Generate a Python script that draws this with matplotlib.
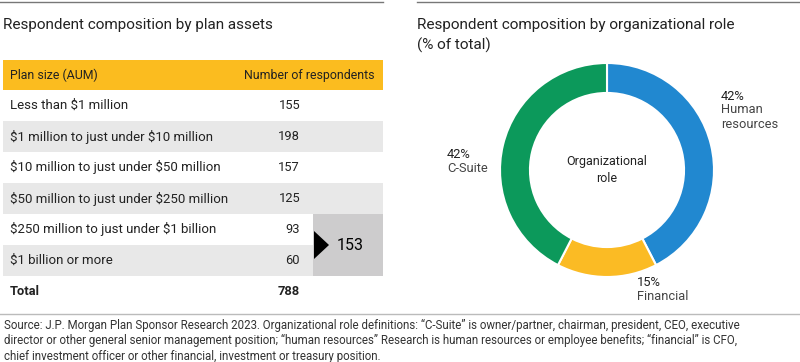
import matplotlib.pyplot as plt
from matplotlib.patches import Rectangle, Polygon

plt.rcParams['font.family'] = ['Roboto', 'DejaVu Sans']
plt.rcParams['text.parse_math'] = False

plan_sizes = [
    "Less than $1 million",
    "$1 million to just under $10 million",
    "$10 million to just under $50 million",
    "$50 million to just under $250 million",
    "$250 million to just under $1 billion",
    "$1 billion or more",
]
respondents = [155, 198, 157, 125, 93, 60]
total = 788
large_plans = 153

roles = ["Human\nresources", "Financial", "C-Suite"]
role_pct = [42, 15, 42]
role_colors = ["#2188d0", "#fbbb24", "#0c995b"]

fig = plt.figure(figsize=(8, 3.62), dpi=100)
ax = fig.add_axes([0, 0, 1, 1])
ax.set_xlim(0, 800)
ax.set_ylim(362, 0)
ax.axis("off")

txt = "#222222"

# top rules
ax.plot([0, 383], [2, 2], color="#777777", lw=1)
ax.plot([417, 800], [2, 2], color="#777777", lw=1)

# left table
ax.text(3, 25, "Respondent composition by plan assets", fontsize=11,
        color=txt, va="center", ha="left")
ax.add_patch(Rectangle((3, 60), 380, 30, color="#fbbc1f", lw=0))
ax.text(10, 75, "Plan size (AUM)", fontsize=8.9, color=txt, va="center")
ax.text(375, 75, "Number of respondents", fontsize=8.9, color=txt,
        va="center", ha="right")

row_h = 31
for i, (name, n) in enumerate(zip(plan_sizes, respondents)):
    y0 = 90 + i * row_h
    if i % 2 == 1:
        w = 310 if i == len(plan_sizes) - 1 else 380
        ax.add_patch(Rectangle((3, y0), w, row_h, color="#e8e8e8", lw=0))
    ax.text(10, y0 + row_h / 2, name, fontsize=9.5, color=txt, va="center")
    ax.text(300, y0 + row_h / 2, str(n), fontsize=9.3, color=txt,
            va="center", ha="right")

y_tot = 90 + len(plan_sizes) * row_h
ax.text(10, y_tot + row_h / 2, "Total", fontsize=9.3, color=txt,
        va="center", fontweight="bold")
ax.text(300, y_tot + row_h / 2, str(total), fontsize=9.3, color=txt,
        va="center", ha="right", fontweight="bold")

# bracket box for the two largest plan sizes
yb = 90 + 4 * row_h
ax.add_patch(Rectangle((313, yb), 70, 2 * row_h, color="#cdcccd", lw=0))
ym = yb + row_h
ax.add_patch(Polygon([[314, ym - 14], [329, ym], [314, ym + 14]],
                     closed=True, color="black", lw=0))
ax.text(337, ym, str(large_plans), fontsize=11.5, color="black", va="center")

# right title
ax.text(417, 25, "Respondent composition by organizational role", fontsize=11,
        color=txt, va="center")
ax.text(417, 45, "(% of total)", fontsize=11, color=txt, va="center")

# bottom rule and source
ax.plot([0, 800], [314, 314], color="#bbbbbb", lw=1)
source = ("Source: J.P. Morgan Plan Sponsor Research 2023. Organizational role definitions: \u201cC-Suite\u201d is owner/partner, chairman, president, CEO, executive\n"
          "director or other general senior management position; \u201chuman resources\u201d Research is human resources or employee benefits; \u201cfinancial\u201d is CFO,\n"
          "chief investment officer or other financial, investment or treasury position.")
ax.text(4, 319, source, fontsize=8.3, color="#333333", va="top", linespacing=1.22)

# donut
pax = fig.add_axes([500 / 800, 1 - 277 / 362, 214 / 800, 214 / 362])
pax.pie(role_pct, colors=role_colors, startangle=90, counterclock=False,
        wedgeprops=dict(width=0.28, edgecolor="white", linewidth=1.5))
pax.set_xlim(-1, 1)
pax.set_ylim(-1, 1)
pax.set_aspect("equal")
pax.axis("off")
pax.text(0, 0, "Organizational\nrole", ha="center", va="center",
         fontsize=9, color=txt, linespacing=1.3)

label_pos = [(721, 96), (637, 283), (447, 155)]
for (x, y), pct, lab in zip(label_pos, role_pct, roles):
    ax.text(x, y, f"{pct}%", fontsize=9.3, color=txt, va="center")
    ax.text(x, y + 7, lab, fontsize=9.3, color="#444444", va="top",
            linespacing=1.15)

fig.savefig("out.png", dpi=100)
